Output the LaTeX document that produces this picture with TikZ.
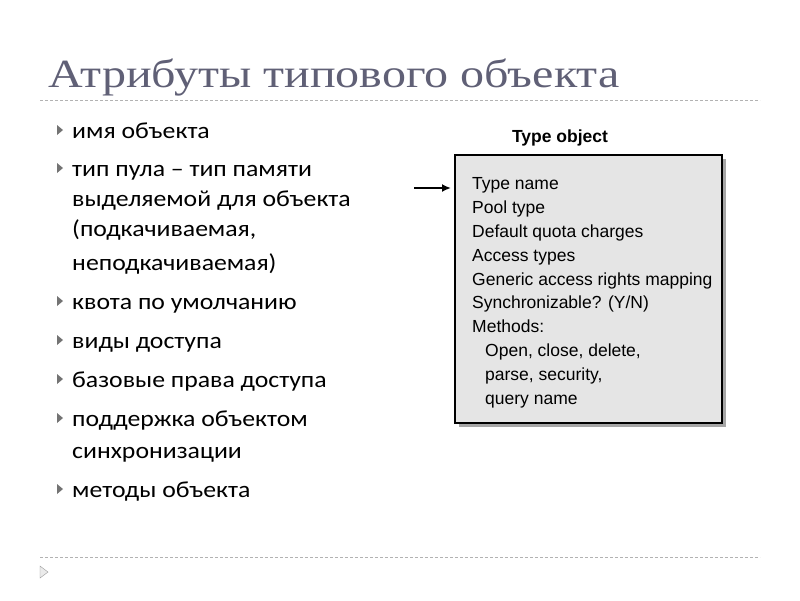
\documentclass[tikz,border=0pt]{standalone}
\usepackage{fontspec}
\setmainfont{Carlito}
\newfontfamily\ttl{Liberation Serif}
\newfontfamily\ars{Liberation Sans}
\usetikzlibrary{arrows.meta}
\begin{document}
\begin{tikzpicture}[x=1pt,y=-1pt,
  bul/.style={anchor=base west,font=\fontsize{23}{30}\selectfont,align=left,inner sep=0,xscale=1.12},
  bx/.style={anchor=base west,font=\ars\fontsize{17.5}{20}\selectfont,inner sep=0}]
\useasboundingbox (0,0) rectangle (800,600);
\fill[white] (0,0) rectangle (800,600);
\node[anchor=base west,inner sep=0,text=black!65!blue!25!gray,font=\ttl\fontsize{40}{44}\selectfont,xscale=1.2] (title) at (48,87) {Атрибуты типового объекта};
\draw[black!30,dash pattern=on 3pt off 2pt] (40,100) -- (760,100);
\draw[black!30,dash pattern=on 3pt off 2pt] (40,557) -- (760,557);
\draw[black!40,fill=black!8] (40,566) -- (48,572) -- (40,578) -- cycle;
\foreach \y in {130,168,301,340,379,418,489}{
  \fill[black!55] (57,\y-5) -- (63,\y) -- (57,\y+5) -- cycle;
}
\node[bul] (b1) at (72,138) {имя объекта};
\node[bul] (b2) at (72,176) {тип пула – тип памяти};
\node[bul] (b2b) at (72,206) {выделяемой для объекта};
\node[bul] (b2c) at (72,236) {(подкачиваемая,};
\node[bul] (b2d) at (72,270) {неподкачиваемая)};
\node[bul] (b3) at (72,309) {квота по умолчанию};
\node[bul] (b4) at (72,348) {виды доступа};
\node[bul] (b5) at (72,387) {базовые права доступа};
\node[bul] (b6) at (72,426) {поддержка объектом};
\node[bul] (b6b) at (72,458) {синхронизации};
\node[bul] (b7) at (72,497) {методы объекта};
\fill[black!35] (459,159) rectangle (726,427);
\draw[line width=1.6pt,fill=black!10] (455,155) rectangle (722,423);
\node[font=\ars\bfseries\fontsize{17.5}{20}\selectfont] (tt) at (560,138) {Type object};
\coordinate (a0) at (414,188);
\coordinate (a1) at (451,188);
\draw[line width=2pt,-{Latex[length=9pt,width=8pt]}] (a0) -- (a1);
\foreach \y/\t in {183/{Type name},207/{Pool type},231/{Default quota charges},255/{Access types},279/{Generic access rights mapping},302/{Synchronizable? (Y/N)},326/{Methods:}}{
  \node[bx] at (472,\y+6) {\t};
}
\foreach \y/\t in {350/{Open, close, delete,},374/{parse, security,},398/{query name}}{
  \node[bx] at (485,\y+6) {\t};
}
\end{tikzpicture}
\end{document}
